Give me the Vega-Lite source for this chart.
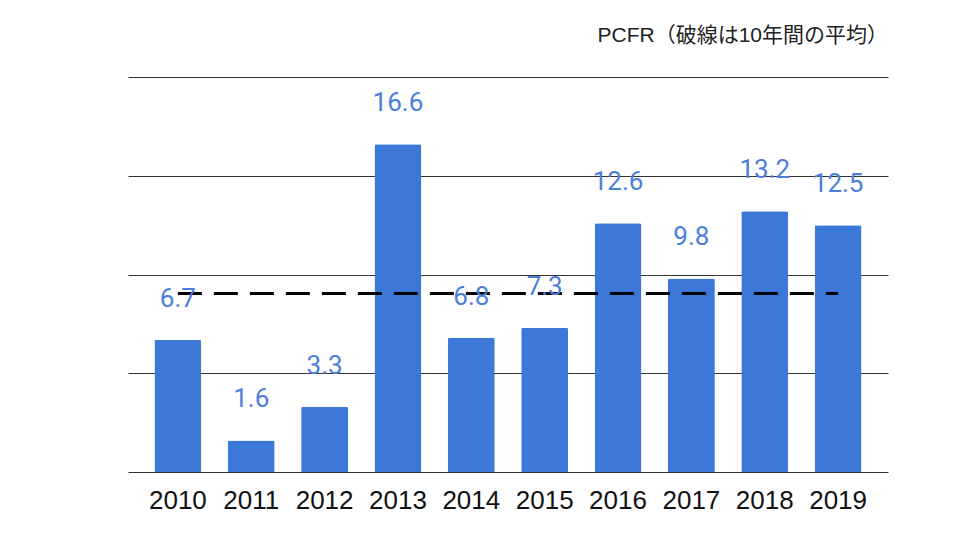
{
  "$schema": "https://vega.github.io/schema/vega-lite/v6.json",
  "width": 760,
  "height": 395,
  "autosize": "none",
  "padding": {"left": 128, "top": 77, "right": 72, "bottom": 68},
  "background": "#ffffff",
  "view": {"stroke": null},
  "title": {
    "text": "PCFR（破線は10年間の平均）",
    "anchor": "end",
    "frame": "group",
    "baseline": "alphabetic",
    "offset": 14,
    "dx": 0,
    "font": "Liberation Sans, Noto Sans CJK JP",
    "fontSize": 21,
    "fontWeight": "normal",
    "color": "#222222"
  },
  "datasets": {
    "pcfr": [
      {"year": "2010", "value": 6.7},
      {"year": "2011", "value": 1.6},
      {"year": "2012", "value": 3.3},
      {"year": "2013", "value": 16.6},
      {"year": "2014", "value": 6.8},
      {"year": "2015", "value": 7.3},
      {"year": "2016", "value": 12.6},
      {"year": "2017", "value": 9.8},
      {"year": "2018", "value": 13.2},
      {"year": "2019", "value": 12.5}
    ],
    "average": [
      {"start": "2010", "end": "2019", "avg": 9.04}
    ]
  },
  "encoding": {
    "x": {
      "field": "year",
      "type": "nominal",
      "scale": {"paddingInner": 0.36, "paddingOuter": 0.36},
      "axis": {
        "title": null,
        "labelAngle": 0,
        "domain": false,
        "ticks": false,
        "tickSize": 0,
        "labelPadding": 15,
        "labelFont": "Liberation Sans",
        "labelFontSize": 26,
        "labelColor": "#111111"
      }
    },
    "y": {
      "field": "value",
      "type": "quantitative",
      "scale": {"domain": [0, 20], "nice": false},
      "axis": {
        "title": null,
        "values": [0, 5, 10, 15, 20],
        "labels": false,
        "domain": false,
        "ticks": false,
        "grid": true,
        "gridColor": "#333333",
        "gridWidth": 1.2
      }
    }
  },
  "layer": [
    {
      "data": {"name": "pcfr"},
      "mark": {"type": "bar", "color": "#3c78d8", "cornerRadiusTopLeft": 2, "cornerRadiusTopRight": 2}
    },
    {
      "data": {"name": "average"},
      "mark": {"type": "rule", "color": "#000000", "strokeWidth": 3, "strokeDash": [24, 12]},
      "encoding": {
        "x": {"field": "start", "type": "nominal"},
        "x2": {"field": "end"},
        "y": {"field": "avg", "type": "quantitative"}
      }
    },
    {
      "data": {"name": "pcfr"},
      "mark": {"type": "text", "dy": -41, "baseline": "middle", "font": "Roboto", "fontSize": 26, "color": "#4a80dc"},
      "encoding": {
        "text": {"field": "value", "type": "quantitative", "format": ".1f"}
      }
    }
  ]
}
